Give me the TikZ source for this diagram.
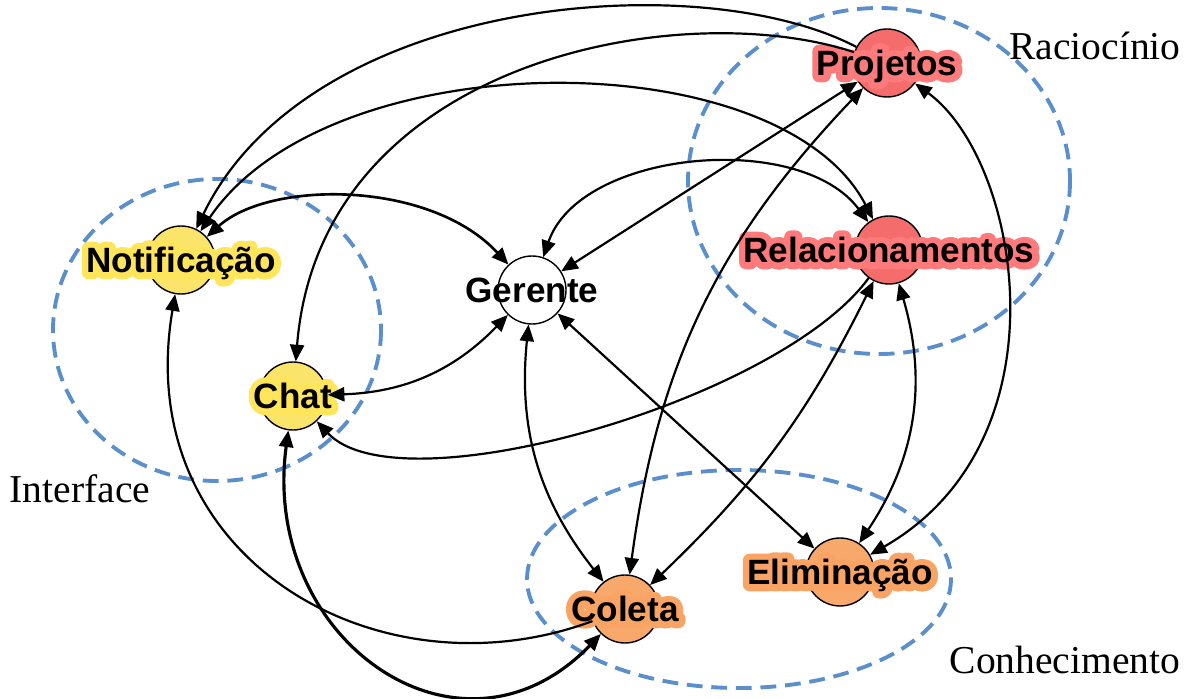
\documentclass[tikz,border=0pt]{standalone}
\usepackage{fontspec}
\setmainfont{Liberation Serif}
\newfontfamily\agentfont{Liberation Sans}
\newfontfamily\halofont{Liberation Sans Bold}[FakeBold=38]
\usetikzlibrary{arrows.meta}

\definecolor{raccol}{HTML}{F46C6C}
\definecolor{rachalo}{HTML}{FF7A7A}
\definecolor{intcol}{HTML}{FAE46A}
\definecolor{inthalo}{HTML}{FFE55C}
\definecolor{concol}{HTML}{F9A86B}
\definecolor{conhalo}{HTML}{F9A464}
\definecolor{groupblue}{HTML}{5B8FCB}

\tikzset{
  agent/.style={draw, circle, line width=0.8pt, minimum size=1.36cm, inner sep=0pt},
  agentlbl/.style={font=\agentfont\bfseries\fontsize{20}{20}\selectfont, inner sep=0pt, text height=14.3pt, text depth=0pt},
  agenthalo/.style={agentlbl, font=\halofont\fontsize{20}{20}\selectfont},
  grouplbl/.style={font=\fontsize{22.5}{22.5}\selectfont, inner sep=0pt, anchor=base},
  group/.style={groupblue, line width=2.2pt, dash pattern=on 9pt off 5pt},
  link/.style={line width=1.25pt},
  >={Triangle[length=9.5pt,width=8pt]}
}

% label with a coloured glow round the letters (round joins)
\newcommand{\agentlabel}[3]{%
  \node[agenthalo,text=#2] at (#1) {\special{pdf:code 1 j 1 J}#3};
  \node[agentlbl] at (#1) {#3};
}

\begin{document}
\begin{tikzpicture}[x=0.02cm,y=-0.02cm]
  \useasboundingbox (0,0) rectangle (1191,699);

  %groups
  \draw[group] (217,330) ellipse [x radius=164, y radius=151];
  \draw[group] (879,181) ellipse [x radius=191, y radius=173];
  \draw[group] (739,579) ellipse [x radius=212, y radius=109];
  \node[grouplbl] (racio) at (1095,60) {Raciocínio};
  \node[grouplbl] (inter) at (80,502) {Interface};
  \node[grouplbl] (conhe) at (1065,673) {Conhecimento};

  %agents
  \node[agent,fill=raccol] (proj) at (887,63) {};
  \node[agent,fill=raccol] (rel) at (889,250) {};
  \node[agent,fill=white] (ger) at (532,290) {};
  \node[agent,fill=intcol] (notif) at (181,260) {};
  \node[agent,fill=intcol] (chat) at (293,396) {};
  \node[agent,fill=concol] (coleta) at (625,609) {};
  \node[agent,fill=concol] (elim) at (840,572) {};

  %labels
  \agentlabel{proj}{rachalo}{Projetos}
  \agentlabel{rel}{rachalo}{Relacionamentos}
  \node[agentlbl] at (ger) {Gerente};
  \agentlabel{notif}{inthalo}{Notificação}
  \agentlabel{chat}{inthalo}{Chat}
  \agentlabel{coleta}{conhalo}{Coleta}
  \agentlabel{elim}{conhalo}{Eliminação}

  %links
  \draw[link,->] (proj) .. controls (700,-35) and (310,-5) .. (notif);
  \draw[link,->] (proj) .. controls (680,-5) and (320,60) .. (chat);
  \draw[link,<->] (notif) .. controls (330,40) and (780,40) .. (rel);
  \draw[link,<->,line width=1.5pt] (notif) .. controls (270,180) and (430,180) .. (ger);
  \draw[link,<->] (ger) .. controls (580,150) and (800,130) .. (rel);
  \draw[link,<->] (ger) -- (proj);
  \draw[link,<->] (coleta) to[bend left=18] (proj);
  \draw[link,<->] (ger) to[bend right=22] (coleta);
  \draw[link,<->] (rel) to[bend left=10] (coleta);
  \draw[link,<->] (ger) -- (elim);
  \draw[link,<->] (rel) to[bend left=25] (elim);
  \draw[link,<->] (proj) .. controls (1020,160) and (1070,440) .. (elim);
  \draw[link,->] (rel) .. controls (780,400) and (400,510) .. (chat);
  \draw[link,<->] (ger) to[bend left=22] (chat);
  \draw[link,->] (coleta) .. controls (380,700) and (130,560) .. (notif);
  \draw[link,<->,line width=1.8pt] (chat) .. controls (260,640) and (460,780) .. (coleta);
\end{tikzpicture}
\end{document}
